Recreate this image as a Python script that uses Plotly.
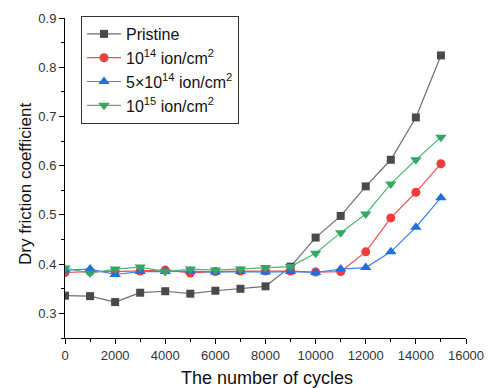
import plotly.graph_objects as go

cycles = [0, 1000, 2000, 3000, 4000, 5000, 6000, 7000, 8000, 9000, 10000, 11000, 12000, 13000, 14000, 15000]
pristine = [0.336, 0.335, 0.323, 0.342, 0.345, 0.340, 0.346, 0.350, 0.355, 0.395, 0.454, 0.498, 0.558, 0.612, 0.698, 0.824]
ion_1e14 = [0.383, 0.385, 0.385, 0.386, 0.388, 0.382, 0.385, 0.386, 0.386, 0.386, 0.384, 0.385, 0.425, 0.494, 0.546, 0.604]
ion_5e14 = [0.388, 0.390, 0.379, 0.385, 0.385, 0.386, 0.384, 0.385, 0.384, 0.385, 0.383, 0.390, 0.393, 0.425, 0.475, 0.535]
ion_1e15 = [0.392, 0.382, 0.390, 0.394, 0.385, 0.390, 0.388, 0.390, 0.393, 0.395, 0.422, 0.464, 0.502, 0.563, 0.612, 0.658]

series = [
    ("Pristine", pristine, "#4a4a4a", "#6e6e6e", "square", 8),
    ("10<sup>14</sup> ion/cm<sup>2</sup>", ion_1e14, "#f03c3c", "#f05050", "circle", 9),
    ("5×10<sup>14</sup> ion/cm<sup>2</sup>", ion_5e14, "#1f6fe0", "#3d85e8", "triangle-up", 10),
    ("10<sup>15</sup> ion/cm<sup>2</sup>", ion_1e15, "#35a765", "#4cb878", "triangle-down", 10),
]

fig = go.Figure()
for name, vals, mcol, lcol, sym, sz in series:
    fig.add_trace(go.Scatter(
        x=cycles, y=vals, name=name, mode="lines+markers",
        line=dict(color=lcol, width=1.2),
        marker=dict(symbol=sym, size=sz, color=mcol, line=dict(width=0)),
    ))

font = "Liberation Sans, Arial, sans-serif"
L, R, T, B = 65, 22, 18, 50
W, H = 488, 388
pw, ph = W - L - R, H - T - B

fig.update_layout(
    width=W, height=H,
    margin=dict(l=L, r=R, t=T, b=B, autoexpand=False),
    paper_bgcolor="white", plot_bgcolor="white",
    font=dict(family=font, size=13, color="#222"),
    showlegend=True,
    legend=dict(
        x=(81 - L) / pw, y=1.0 + (T - 16) / ph, xanchor="left", yanchor="top",
        bordercolor="#333", borderwidth=1, bgcolor="white",
        font=dict(size=16, family=font, color="#111"),
        tracegroupgap=0, itemwidth=34,
    ),
    xaxis=dict(
        range=[0, 16000], dtick=2000, tickformat="d", automargin=False,
        showline=True, linecolor="black", linewidth=1, mirror=False,
        ticks="outside", ticklen=5, tickcolor="black",
        minor=dict(ticks="outside", ticklen=3, dtick=1000, tickcolor="black"),
        showgrid=False, zeroline=False,
        tickfont=dict(size=13, color="#333"),
    ),
    yaxis=dict(
        range=[0.25, 0.9], dtick=0.1, tick0=0.3, tickformat=".1f", automargin=False,
        showline=True, linecolor="black", linewidth=1, mirror=False,
        ticks="outside", ticklen=5, tickcolor="black",
        minor=dict(ticks="outside", ticklen=3, dtick=0.05, tickcolor="black"),
        showgrid=False, zeroline=False,
        tickfont=dict(size=13, color="#333"),
    ),
    annotations=[
        dict(text="The number of cycles", xref="paper", yref="paper",
             x=(266.5 - L) / pw, y=(H - B - 378) / ph, xanchor="center", yanchor="middle",
             showarrow=False, font=dict(size=18, family=font, color="#111")),
        dict(text="Dry friction coefficient", xref="paper", yref="paper", textangle=-90,
             x=(25 - L) / pw, y=(H - B - 184) / ph, xanchor="center", yanchor="middle",
             showarrow=False, font=dict(size=17, family=font, color="#111")),
    ],
)

fig.write_html("out.html")
